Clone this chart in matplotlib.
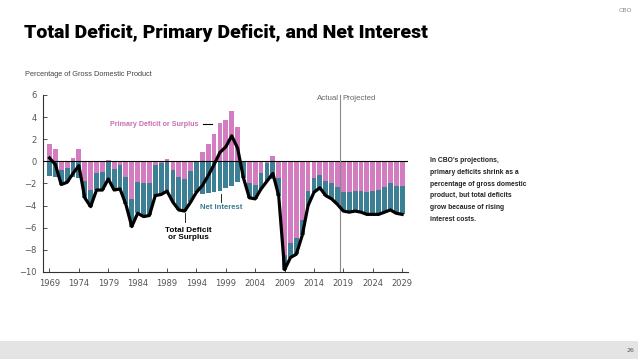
import numpy as np
import matplotlib.pyplot as plt
from matplotlib.patches import Rectangle

years = np.arange(1969, 2030)

# total deficit (-) or surplus (+), percent of GDP
total = [0.3, -0.3, -2.1, -1.9, -1.1, -0.4, -3.3, -4.1, -2.6, -2.6,
         -1.6, -2.6, -2.5, -3.9, -5.9, -4.7, -5.0, -4.9, -3.1, -3.0,
         -2.7, -3.7, -4.4, -4.5, -3.7, -2.8, -2.2, -1.3, -0.3, 0.8,
         1.3, 2.3, 1.2, -1.5, -3.3, -3.4, -2.5, -1.8, -1.1, -3.1,
         -9.8, -8.7, -8.4, -6.7, -4.0, -2.8, -2.4, -3.1, -3.4, -3.9,
         -4.5, -4.6, -4.5, -4.6, -4.8, -4.8, -4.8, -4.6, -4.4, -4.7, -4.8]

# net interest, percent of GDP
interest = [1.3, 1.4, 1.3, 1.3, 1.4, 1.5, 1.5, 1.5, 1.5, 1.6,
            1.7, 1.9, 2.2, 2.5, 2.5, 2.8, 3.0, 2.9, 2.8, 2.8,
            2.9, 2.9, 3.0, 2.9, 2.8, 2.7, 3.0, 2.9, 2.8, 2.7,
            2.4, 2.2, 1.9, 1.5, 1.3, 1.3, 1.4, 1.6, 1.6, 1.6,
            1.3, 1.3, 1.5, 1.4, 1.3, 1.3, 1.2, 1.3, 1.4, 1.6,
            1.7, 1.8, 1.8, 1.9, 2.0, 2.1, 2.2, 2.3, 2.4, 2.5, 2.6]

total = np.array(total)
interest = np.array(interest)
primary = total + interest

pink = '#d47cc0'
teal = '#3d7f94'
sans = 'Liberation Sans'

fig = plt.figure(figsize=(6.38, 3.59), dpi=100)
ax = fig.add_axes([0.0679, 0.2426, 0.5716, 0.4931])

# primary bar from 0, net interest stacked below (or from 0 when primary is a surplus)
ax.bar(years, primary, width=0.82, color=pink, zorder=2)
ni_top = np.minimum(primary, 0)
ax.bar(years, -interest, bottom=ni_top, width=0.82, color=teal, zorder=2)
ax.plot(years, total, color='black', lw=2.3, zorder=4, solid_joinstyle='round')

ax.axhline(0, color='black', lw=0.8, zorder=3)
ax.axvline(2018.5, ymin=0, ymax=1, color='#8a8a8a', lw=0.8, zorder=3)

ax.set_xlim(1967.95, 2030.0)
ax.set_ylim(-10, 6)
ax.set_xticks(np.arange(1969, 2030, 5))
ax.set_yticks(np.arange(-10, 7, 2))
ax.set_yticklabels([str(v).replace('-', '\u2212') for v in range(-10, 7, 2)])
for s in ['top', 'right']:
    ax.spines[s].set_visible(False)
for s in ['left', 'bottom']:
    ax.spines[s].set_color('#333333')
    ax.spines[s].set_linewidth(0.8)
ax.tick_params(axis='both', direction='in', length=3, width=0.6, color='#333333',
               labelsize=6, labelcolor='#555555')
ax.tick_params(axis='y', pad=5)
ax.tick_params(axis='x', pad=5)

# labels
ax.text(2018.3, 5.63, 'Actual', ha='right', va='center', fontsize=5.7,
        color='#666666', family=sans)
ax.text(2018.8, 5.63, 'Projected', ha='left', va='center', fontsize=5.7,
        color='#666666', family=sans)

ax.text(1994.4, 3.35, 'Primary Deficit or Surplus', ha='right', va='center',
        fontsize=5.1, fontweight='bold', color='#c86db4', family=sans)
ax.plot([1995.1, 1996.6], [3.35, 3.35], color='black', lw=0.8)

ax.text(1994.6, -4.2, 'Net Interest', ha='left', va='center',
        fontsize=5.6, fontweight='bold', color=teal, family=sans)
ax.plot([1998.1, 1998.1], [-2.95, -3.65], color='black', lw=0.6)

ax.text(1992.6, -6.6, 'Total Deficit\nor Surplus', ha='center', va='center',
        fontsize=5.9, fontweight='bold', color='black', linespacing=1.05, family=sans)
ax.plot([1992.05, 1992.05], [-4.7, -5.45], color='black', lw=0.6)

fig.text(24 / 638, 1 - 33 / 359, 'Total Deficit, Primary Deficit, and Net Interest',
         fontsize=14, fontweight='heavy', family='Roboto', va='center', ha='left')
fig.text(25 / 638, 1 - 75 / 359, 'Percentage of Gross Domestic Product',
         fontsize=5.3, color='#444444', va='center', ha='left', family=sans)
fig.text(625 / 638, 1 - 11 / 359, 'CBO', fontsize=4.5, color='#888888', ha='center', va='center')

note = ("In CBO\u2019s projections,\nprimary deficits shrink as a\npercentage of gross domestic\n"
        "product, but total deficits\ngrow because of rising\ninterest costs.")
fig.text(430 / 638, 1 - 157 / 359, note, fontsize=4.9, fontweight='bold', color='#222222',
         va='top', ha='left', linespacing=1.95, family=sans)

fig.patches.append(Rectangle((0, 0), 1, 18 / 359, transform=fig.transFigure,
                             facecolor='#e4e4e4', edgecolor='none', zorder=0))
fig.text(630 / 638, 1 - 350 / 359, '26', fontsize=4.5, color='#555555', ha='center', va='center')

fig.savefig('out.png', dpi=100)
